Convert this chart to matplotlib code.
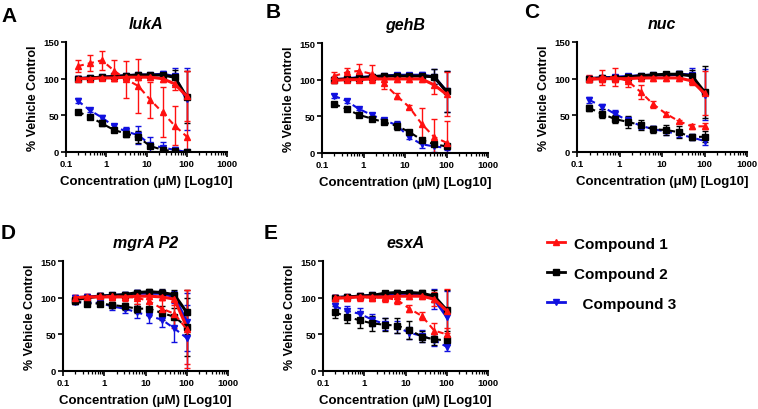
import matplotlib
matplotlib.use("Agg")
import matplotlib.pyplot as plt
import numpy as np

plt.rcParams['font.family'] = ['Liberation Sans', 'DejaVu Sans']
plt.rcParams['font.weight'] = 'bold'

conc = [0.195, 0.39, 0.78, 1.56, 3.125, 6.25, 12.5, 25, 50, 100]

genes = ["lukA", "gehB", "nuc", "mgrA P2", "esxA"]
letters = ["A", "B", "C", "D", "E"]

# solid lines (per compound), one row per panel
c1_solid = [[100, 100, 101, 101, 102, 102, 102, 100, 93, 76],
            [99, 100, 100, 101, 101, 101, 101, 101, 93, 80],
            [99, 100, 100, 100, 101, 101, 101, 101, 97, 80],
            [100, 101, 101, 101, 101, 102, 102, 101, 98, 60],
            [99, 100, 101, 101, 101, 102, 102, 102, 98, 82]]
c2_solid = [[100, 101, 102, 103, 104, 105, 105, 105, 102, 75],
            [100, 101, 102, 104, 105, 105, 105, 105, 104, 84],
            [100, 101, 101, 102, 104, 105, 106, 106, 104, 82],
            [97, 100, 102, 103, 104, 107, 108, 107, 104, 80],
            [100, 101, 102, 103, 106, 107, 107, 106, 102, 83]]
c3_solid = [[100, 101, 102, 103, 104, 105, 105, 106, 103, 72],
            [100, 101, 103, 104, 105, 106, 106, 106, 104, 84],
            [100, 101, 102, 103, 104, 105, 105, 106, 105, 78],
            [100, 101, 102, 103, 104, 106, 106, 106, 101, 67],
            [100, 101, 102, 103, 104, 105, 105, 104, 98, 74]]

# dashed lines (per compound)
c1_dash = [[117, 121, 125, 111, 99, 90, 71, 54, 36, 21],
           [105, 110, 112, 108, 95, 78, 63, 40, 22, 14],
           [100, 102, 102, 97, 82, 65, 52, 42, 35, 35],
           [100, 101, 102, 102, 101, 100, 95, 85, 78, 57],
           [100, 101, 101, 100, 100, 97, 85, 75, 55, 50]]
c2_dash = [[55, 48, 39, 30, 25, 20, 8, 3, 1, 0],
           [67, 60, 52, 47, 42, 37, 29, 18, 12, 9],
           [60, 52, 45, 41, 37, 31, 30, 27, 20, 21],
           [95, 92, 92, 90, 88, 85, 85, 79, 74, 60],
           [80, 74, 69, 65, 63, 62, 56, 47, 43, 42]]
c3_dash = [[70, 57, 47, 35, 28, 23, 10, 6, 3, 0],
           [78, 71, 60, 52, 45, 38, 22, 12, 9, 7],
           [71, 62, 52, 43, 36, 31, 28, 24, 20, 15],
           [94, 93, 93, 88, 85, 80, 75, 70, 58, 45],
           [88, 82, 78, 70, 64, 60, 52, 48, 42, 33]]

# error bars
c1_solid_err = [[3, 3, 3, 4, 4, 4, 4, 4, 8, 34],
                [3, 3, 3, 4, 4, 4, 4, 4, 12, 30],
                [4, 4, 4, 4, 4, 4, 4, 4, 6, 30],
                [4, 4, 4, 4, 4, 4, 4, 4, 8, 50],
                [4, 4, 4, 4, 4, 4, 4, 4, 10, 30]]
c2_solid_err = [[3, 3, 3, 3, 3, 3, 3, 4, 10, 35],
                [3, 3, 3, 3, 3, 3, 3, 4, 10, 28],
                [3, 3, 3, 3, 3, 3, 3, 5, 8, 35],
                [4, 4, 4, 4, 4, 4, 4, 5, 6, 30],
                [3, 3, 3, 3, 3, 3, 3, 4, 8, 28]]
c3_solid_err = [[3, 3, 3, 3, 3, 3, 3, 4, 12, 42],
                [3, 3, 3, 3, 3, 3, 3, 4, 10, 28],
                [3, 3, 3, 3, 3, 3, 3, 5, 10, 35],
                [4, 4, 4, 4, 4, 4, 4, 5, 8, 40],
                [3, 3, 3, 3, 3, 3, 3, 4, 14, 35]]
c1_dash_err = [[8, 11, 13, 14, 25, 37, 25, 34, 27, 89],
               [5, 6, 10, 12, 8, 4, 3, 21, 25, 30],
               [5, 10, 12, 8, 10, 5, 3, 2, 3, 4],
               [4, 4, 5, 5, 6, 8, 10, 12, 20, 53],
               [4, 4, 5, 5, 6, 6, 5, 5, 10, 8]]
c2_dash_err = [[2, 2, 4, 3, 5, 8, 3, 2, 1, 1],
               [2, 2, 2, 2, 3, 5, 2, 2, 3, 2],
               [4, 6, 6, 8, 7, 5, 7, 8, 4, 8],
               [3, 3, 3, 4, 5, 6, 8, 10, 12, 40],
               [8, 8, 10, 10, 9, 10, 12, 8, 8, 6]]
c3_dash_err = [[3, 2, 4, 3, 6, 12, 10, 8, 4, 1],
               [3, 3, 2, 3, 3, 5, 3, 5, 7, 3],
               [4, 4, 5, 4, 4, 4, 5, 4, 3, 5],
               [3, 3, 4, 5, 6, 8, 10, 10, 18, 45],
               [5, 6, 8, 8, 8, 8, 8, 8, 8, 6]]

compounds = ["Compound 1", "Compound 2", "  Compound 3"]
colors = ["#ff1010", "#000000", "#1010e0"]
markers = ["^", "s", "v"]

# axes boxes in pixels: left, top, right, bottom
boxes = [(66, 43, 227, 153), (322, 44, 488, 154), (577, 43, 747, 153),
         (63, 262, 228, 372), (323, 262, 488, 372)]

W, H = 758, 410
fig = plt.figure(figsize=(W / 100, H / 100), dpi=100)

solid = [c1_solid, c2_solid, c3_solid]
dash = [c1_dash, c2_dash, c3_dash]
solid_err = [c1_solid_err, c2_solid_err, c3_solid_err]
dash_err = [c1_dash_err, c2_dash_err, c3_dash_err]

for p in range(5):
    l, t, r, b = boxes[p]
    ax = fig.add_axes([l / W, 1 - b / H, (r - l) / W, (b - t) / H])
    for k in [2, 1, 0]:
        ax.errorbar(conc, solid[k][p], yerr=solid_err[k][p], color=colors[k],
                    marker=markers[k], ms=3.8, lw=2.2, elinewidth=1.0,
                    capsize=2, capthick=1.0, clip_on=True)
    for k in [2, 1, 0]:
        ax.errorbar(conc, dash[k][p], yerr=dash_err[k][p], color=colors[k],
                    marker=markers[k], ms=3.8, lw=1.5, ls=(0, (3, 2)),
                    elinewidth=1.0, capsize=2, capthick=1.0, clip_on=True)
    ax.set_xscale('log')
    ax.set_xlim(0.1, 1000)
    ax.set_ylim(0, 150)
    ax.set_yticks([0, 50, 100, 150])
    ax.set_xticks([0.1, 1, 10, 100, 1000])
    ax.set_xticklabels(["0.1", "1", "10", "100", "1000"])
    for s in ['top', 'right']:
        ax.spines[s].set_visible(False)
    for s in ['left', 'bottom']:
        ax.spines[s].set_linewidth(1.5)
    ax.tick_params(which='major', direction='out', length=3.5, width=1.2,
                   labelsize=6.8, pad=1.5)
    ax.tick_params(which='minor', direction='out', length=2, width=0.9)
    for lab in ax.get_xticklabels() + ax.get_yticklabels():
        lab.set_fontweight('bold')
    ax.set_ylabel("% Vehicle Control", fontsize=9, fontweight='bold', labelpad=3)
    ax.set_xlabel("Concentration (\u03bcM) [Log10]", fontsize=9.5,
                  fontweight='bold', labelpad=5)
    ax.set_title(genes[p], fontsize=11.5, fontweight='bold', style='italic', pad=10)

letter_pos = [(1, 16), (266, 13), (524, 13), (1, 234), (264, 234)]
for p in range(5):
    x, y = letter_pos[p]
    fig.text(x / W, 1 - y / H, letters[p], fontsize=15, fontweight='bold',
             va='center', ha='left')

# legend
handles = []
for k in range(3):
    h = plt.Line2D([], [], color=colors[k], marker=markers[k], ms=3.8, lw=2.0)
    handles.append(h)
fig.legend(handles, compounds, loc='upper left',
           bbox_to_anchor=(533 / W, 1 - 224 / H), frameon=False,
           prop={'size': 11, 'weight': 'bold'}, handlelength=1.2,
           labelspacing=1.05, handletextpad=0.6)

fig.savefig("out.png", dpi=100)
